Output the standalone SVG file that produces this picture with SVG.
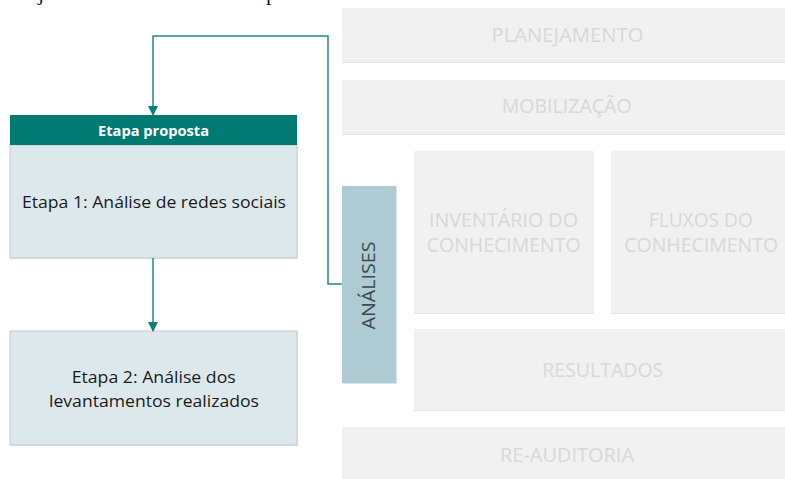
<svg xmlns="http://www.w3.org/2000/svg" width="785" height="479" viewBox="0 0 785 479">
<defs>
<style>
.gb{fill:#f1f1f1}
.gt{font-family:"Open Sans","Noto Sans",sans-serif;font-size:20px;fill:#d8d8d8;text-anchor:middle}
.dk{font-family:"Open Sans","Noto Sans",sans-serif;font-size:17px;fill:#1a1a1a;text-anchor:middle}
.conn{fill:none;stroke:#1e8a87;stroke-width:1.5}
.sh{fill:#dbe6f4}
</style>
<marker id="ah" markerWidth="10" markerHeight="10" refX="9" refY="5" orient="auto" markerUnits="userSpaceOnUse">
<path d="M0,0 L10,5 L0,10 Z" fill="#0f7f7b"/>
</marker>
</defs>
<rect width="785" height="479" fill="#ffffff"/>
<g id="top-fragment">
<text x="38" y="0" font-family="Liberation Serif,serif" font-size="22" fill="#1a1a1a">j</text>
<text x="266" y="0" font-family="Liberation Serif,serif" font-size="22" fill="#1a1a1a">p</text>
</g>
<g id="planejamento">
<rect class="sh" x="342" y="60" width="443" height="3"/>
<rect class="gb" x="342" y="8" width="443" height="54"/>
<text class="gt" x="567.5" y="42" textLength="152" lengthAdjust="spacingAndGlyphs">PLANEJAMENTO</text>
</g>
<g id="mobilizacao">
<rect class="sh" x="342" y="132" width="443" height="3"/>
<rect class="gb" x="342" y="80" width="443" height="54"/>
<text class="gt" x="566.7" y="113" textLength="130" lengthAdjust="spacingAndGlyphs">MOBILIZAÇÃO</text>
</g>
<g id="inventario">
<rect class="sh" x="414" y="311" width="180" height="3"/>
<rect class="gb" x="414" y="151" width="180" height="162"/>
<text class="gt" x="503.5" y="227" textLength="149" lengthAdjust="spacingAndGlyphs">INVENTÁRIO DO</text>
<text class="gt" x="503.7" y="251.5" textLength="154" lengthAdjust="spacingAndGlyphs">CONHECIMENTO</text>
</g>
<g id="fluxos">
<rect class="sh" x="611" y="311" width="174" height="3"/>
<rect class="gb" x="611" y="151" width="174" height="162"/>
<text class="gt" x="700.8" y="227" textLength="104" lengthAdjust="spacingAndGlyphs">FLUXOS DO</text>
<text class="gt" x="701.2" y="251.5" textLength="154" lengthAdjust="spacingAndGlyphs">CONHECIMENTO</text>
</g>
<g id="resultados">
<rect class="sh" x="414" y="408" width="371" height="3"/>
<rect class="gb" x="414" y="329" width="371" height="81"/>
<text class="gt" x="602.8" y="376.5" textLength="121" lengthAdjust="spacingAndGlyphs">RESULTADOS</text>
</g>
<g id="reauditoria">
<rect class="gb" x="342" y="427" width="443" height="52"/>
<text class="gt" x="567" y="462" textLength="134" lengthAdjust="spacingAndGlyphs">RE-AUDITORIA</text>
</g>
<g id="analises">
<rect x="343" y="187" width="54" height="197" fill="#d9e3ea"/>
<rect x="342" y="186" width="54" height="197" fill="#aecad2"/>
<text transform="translate(375,285.5) rotate(-90)" x="0" y="0" font-family="Open Sans,Noto Sans,sans-serif" font-size="19" fill="#3a4a50" text-anchor="middle" textLength="88" lengthAdjust="spacingAndGlyphs">ANÁLISES</text>
</g>
<g id="etapa1">
<rect x="11" y="146" width="287" height="113" fill="#dbe6f4"/>
<rect x="10" y="145" width="287" height="113" fill="#dde8ed" stroke="#c9c9c9" stroke-width="1"/>
<rect x="10" y="115" width="287" height="30" fill="#007a73"/>
<text x="153.5" y="136" font-family="Open Sans,Noto Sans,sans-serif" font-size="14.5" font-weight="bold" fill="#ffffff" text-anchor="middle" textLength="111" lengthAdjust="spacingAndGlyphs">Etapa proposta</text>
<text class="dk" x="154" y="208" textLength="264" lengthAdjust="spacingAndGlyphs">Etapa 1: Análise de redes sociais</text>
</g>
<g id="etapa2">
<rect x="11" y="332" width="287" height="114" fill="#dbe6f4"/>
<rect x="10" y="331" width="287" height="114" fill="#dde8ed" stroke="#c9c9c9" stroke-width="1"/>
<text class="dk" x="153.7" y="383" textLength="164" lengthAdjust="spacingAndGlyphs">Etapa 2: Análise dos</text>
<text class="dk" x="154" y="407" textLength="210" lengthAdjust="spacingAndGlyphs">levantamentos realizados</text>
</g>
<g id="connectors">
<path class="conn" d="M342,284 H328 V36 H153 V115" marker-end="url(#ah)"/>
<path class="conn" d="M153,258 V331" marker-end="url(#ah)"/>
</g>
</svg>
